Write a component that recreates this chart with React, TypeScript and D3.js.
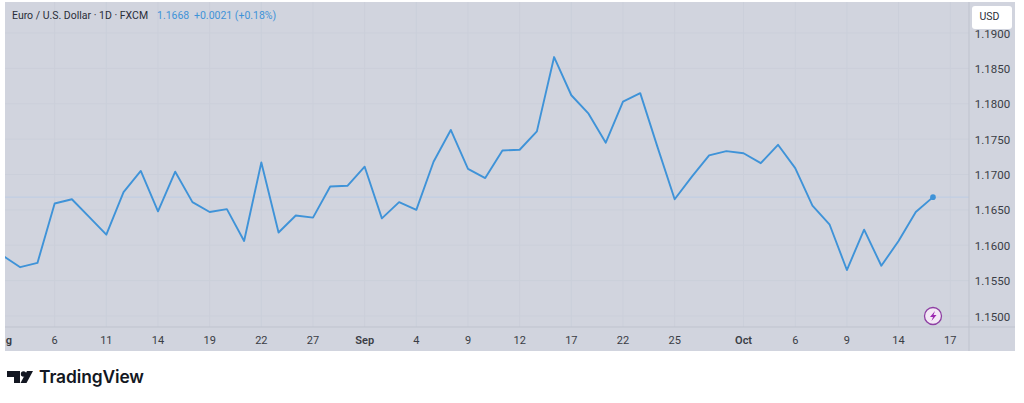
import React from "react";
import * as d3 from "d3";

const closes = [1.1585,1.1569,1.1575,1.1659,1.1665,1.1640,1.1615,1.1675,1.1705,1.1648,1.1704,1.1661,1.1647,1.1651,1.1606,1.1717,1.1618,1.1642,1.1639,1.1683,1.1684,1.1711,1.1638,1.1661,1.1650,1.1718,1.1763,1.1708,1.1695,1.1734,1.1735,1.1761,1.1866,1.1812,1.1786,1.1745,1.1803,1.1815,1.1739,1.1665,1.1697,1.1727,1.1733,1.1730,1.1716,1.1742,1.1709,1.1656,1.1629,1.1565,1.1622,1.1571,1.1606,1.1647,1.1668];
const xTickIndex = [3,6,9,12,15,18,21,24,27,30,33,36,39,43,46,49,52,55];
const xTickLabels = ["6","11","14","19","22","27","Sep","4","9","12","17","22","25","Oct","6","9","14","17"];
const cutOffLabel = "g";
const boldTicks = ["Sep","Oct"];
const yTicks = [1.19,1.185,1.18,1.175,1.17,1.165,1.16,1.155,1.15];
const lastClose = 1.1668;

const x = d3.scaleLinear().domain([0, 54]).range([3, 933]);
const y = d3.scaleLinear().domain([1.15, 1.19]).range([316, 33]);
const line = d3.line<number>().x((_, i) => x(i)).y(d => y(d));
const FONT = "Roboto, 'Liberation Sans', sans-serif";
const LINE_COLOR = "#3f93d8";
const GRID = "#cbcfda";

export default function App() {
  return (
    <svg width={1024} height={403} style={{ position: "absolute", left: 0, top: 0, background: "#fff" }}>
      <defs>
        <clipPath id="plot"><rect x={5} y={2} width={964} height={325} /></clipPath>
      </defs>
      <rect x={5} y={2} width={1010} height={349} fill="#d1d4de" />
      <g clipPath="url(#plot)">
        {yTicks.map(t => <line key={t} x1={5} x2={969} y1={y(t)} y2={y(t)} stroke={GRID} strokeWidth={1} />)}
        {[0, ...xTickIndex].map(i => <line key={i} x1={x(i)} x2={x(i)} y1={2} y2={327} stroke={GRID} strokeWidth={1} />)}
        <line x1={5} x2={969} y1={y(lastClose)} y2={y(lastClose)} stroke="#bccde4" strokeWidth={1} />
        <path d={line(closes) ?? ""} fill="none" stroke={LINE_COLOR} strokeWidth={1.9} strokeLinejoin="round" />
        <circle cx={x(54)} cy={y(lastClose)} r={2.8} fill={LINE_COLOR} />
      </g>
      <line x1={5} x2={1015} y1={327} y2={327} stroke="#bfc3ce" />
      <line x1={969} x2={969} y1={2} y2={351} stroke="#bfc3ce" />
      <g fontFamily={FONT} fontSize={11} fill="#3a3d45" textAnchor="middle">
        {xTickIndex.map((i, k) => (
          <text key={i} x={x(i)} y={344} fontWeight={boldTicks.includes(xTickLabels[k]) ? 600 : 400}>{xTickLabels[k]}</text>
        ))}
        <text x={12} y={344} fontWeight={600} textAnchor="end">{cutOffLabel}</text>
      </g>
      <g fontFamily={FONT} fontSize={11.5} fill="#3a3d45" textAnchor="middle">
        {yTicks.map(t => <text key={t} x={992.5} y={y(t) + 4.5}>{t.toFixed(4)}</text>)}
      </g>
      <rect x={972} y={6} width={40} height={23} rx={3} fill="#fff" />
      <text x={989.5} y={20} fontFamily={FONT} fontSize={10.5} fill="#2a2e39" textAnchor="middle">USD</text>
      <text x={12} y={19} fontFamily={FONT} fontSize={10.5} fill="#2a2e39">Euro / U.S. Dollar · 1D · FXCM</text>
      <text x={157} y={19} fontFamily={FONT} fontSize={10.5} fill={LINE_COLOR}>1.1668</text>
      <text x={194} y={19} fontFamily={FONT} fontSize={10.5} fill={LINE_COLOR}>+0.0021 (+0.18%)</text>
      <circle cx={933} cy={316} r={8.5} fill="#f3e8f5" stroke="#8e3fa3" strokeWidth={1.3} />
      <path d="M935 311 L930 317 L933 317 L931.5 321 L936.5 315 L933.5 315 Z" fill="#9c27b0" />
      <path d="M7 371 H20 V383 H14 V377 H7 Z" fill="#131722" />
      <circle cx={23.5} cy={374} r={2.7} fill="#131722" />
      <path d="M27 371 H33 L26.5 383 H20.5 Z" fill="#131722" />
      <text x={39} y={383} fontFamily="Inter, Roboto, sans-serif" fontSize={17.4} fontWeight={600} fill="#131722" letterSpacing={-0.1}>TradingView</text>
    </svg>
  );
}
